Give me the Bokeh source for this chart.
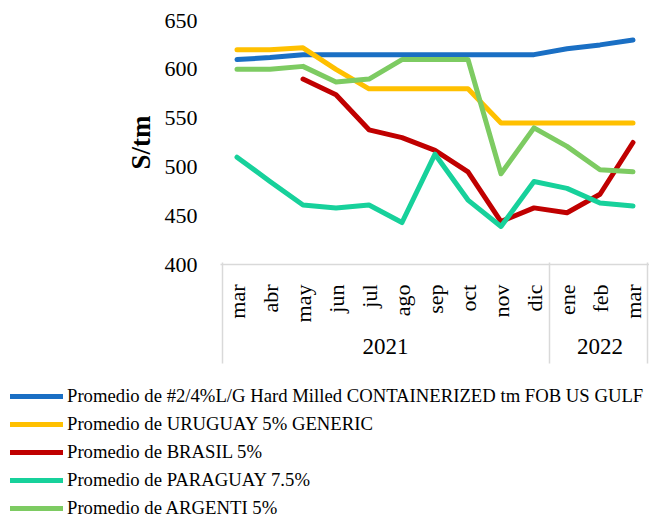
import math
from bokeh.plotting import figure
from bokeh.layouts import column
from bokeh.models import (FactorRange, Range1d, Legend, LegendItem, FixedTicker,
                          ColumnDataSource, CategoricalAxis)
from bokeh.embed import file_html
from bokeh.resources import INLINE

nan = float("nan")
years = ["2021"] * 10 + ["2022"] * 3
months = ["mar", "abr", "may", "jun", "jul", "ago", "sep", "oct", "nov", "dic", "ene", "feb", "mar"]
us_gulf = [610, 612, 615, 615, 615, 615, 615, 615, 615, 615, 621, 625, 630]
uruguay = [620, 620, 622, 600, 580, 580, 580, 580, 545, 545, 545, 545, 545]
brasil = [nan, nan, 590, 574, 538, 530, 517, 495, 444, 458, 453, 472, 525]
paraguay = [510, 485, 461, 458, 461, 443, 513, 466, 439, 485, 478, 463, 460]
argenti = [600, 600, 603, 587, 590, 610, 610, 610, 493, 540, 521, 497, 495]
y_ticks = [400, 450, 500, 550, 600, 650]

series_names = [
    "Promedio de #2/4%L/G Hard Milled CONTAINERIZED tm FOB US GULF",
    "Promedio de URUGUAY 5% GENERIC",
    "Promedio de BRASIL 5%",
    "Promedio de PARAGUAY 7.5%",
    "Promedio de ARGENTI 5%",
]
series_vals = [us_gulf, uruguay, brasil, paraguay, argenti]
series_colors = ["#1A6FC4", "#FFC000", "#C00000", "#17D19B", "#7DCB62"]

factors = list(zip(years, months))
n_cat = len(factors)
n_first = years.count("2021")
FONT = "Liberation Serif"
GRAY = "#D9D9D9"

x_range = FactorRange(*factors, group_padding=0, factor_padding=0, range_padding=0)
p = figure(
    width=649, height=375,
    x_range=x_range,
    y_range=Range1d(400, 650),
    output_backend="svg", toolbar_location=None,
    min_border_left=220, min_border_right=0, min_border_top=20, min_border_bottom=111,
)
p.frame_align = False
p.outline_line_color = None
p.grid.visible = False

yax = p.yaxis[0]
yax.ticker = FixedTicker(ticks=y_ticks)
yax.axis_line_color = None
yax.major_tick_line_color = None
yax.minor_tick_line_color = None
yax.major_label_text_font = FONT
yax.major_label_text_font_size = "22px"
yax.major_label_text_color = "black"
yax.major_label_standoff = 17
yax.axis_label = "S/tm"
yax.axis_label_text_font = FONT
yax.axis_label_text_font_style = "bold"
yax.axis_label_text_font_size = "27px"
yax.axis_label_text_color = "black"
yax.axis_label_standoff = 6

xax = p.xaxis[0]
xax.axis_line_color = GRAY
xax.axis_line_width = 1.5
xax.major_tick_line_color = None
xax.minor_tick_line_color = None
xax.major_label_orientation = math.pi / 2
xax.major_label_text_font = FONT
xax.major_label_text_font_size = "22px"
xax.major_label_text_color = "black"
xax.major_label_standoff = 14
xax.group_text_font = FONT
xax.group_text_font_size = "23px"
xax.group_text_color = "black"
xax.group_text_font_style = "normal"
xax.separator_line_color = None

# box lines of the category axis (left edge, year separator, right edge):
# an auxiliary categorical range whose three factor centres sit on those boundaries
gp = n_first / (n_cat - n_first) - 1
p.extra_x_ranges = {"edges": FactorRange(("a", "p"), ("b", "q"), ("b", "r"),
                                         factor_padding=0, group_padding=gp,
                                         range_padding=-0.48, range_padding_units="absolute")}
edge_axis = CategoricalAxis(x_range_name="edges",
                            axis_line_color=None, major_tick_in=95, major_tick_out=6,
                            major_tick_line_color=GRAY, major_tick_line_width=1.5,
                            minor_tick_line_color=None,
                            major_label_text_font_size="1px", major_label_text_alpha=0,
                            group_text_font_size="1px", group_text_alpha=0,
                            separator_line_color=None)
p.add_layout(edge_axis, "below")

sources = []
for vals, col in zip(series_vals, series_colors):
    src = ColumnDataSource(dict(x=factors, y=vals))
    sources.append(src)
    p.line("x", "y", source=src, line_color=col, line_width=5,
           line_join="round", line_cap="round")

# legend panel (same series, drawn out of its view so only the legend shows)
p2 = figure(width=649, height=144, x_range=FactorRange(*factors), y_range=Range1d(0, 1),
            x_axis_type=None, y_axis_type=None, output_backend="svg",
            toolbar_location=None, min_border=0)
p2.frame_align = False
p2.outline_line_color = None
p2.grid.visible = False
items = []
for name, col, src in zip(series_names, series_colors, sources):
    r = p2.line("x", "y", source=src, line_color=col, line_width=5, line_cap="round")
    items.append(LegendItem(label=name, renderers=[r]))
legend = Legend(
    items=items, location=(10, 0), orientation="vertical",
    label_text_font=FONT, label_text_font_size="18.7px", label_text_color="black",
    glyph_width=53, glyph_height=22, label_height=22, spacing=6,
    padding=0, margin=0, label_standoff=4,
    border_line_color=None, background_fill_alpha=0,
)
p2.add_layout(legend, "center")

layout = column(p, p2, spacing=0)
open("out.html", "w").write(file_html(layout, INLINE))
